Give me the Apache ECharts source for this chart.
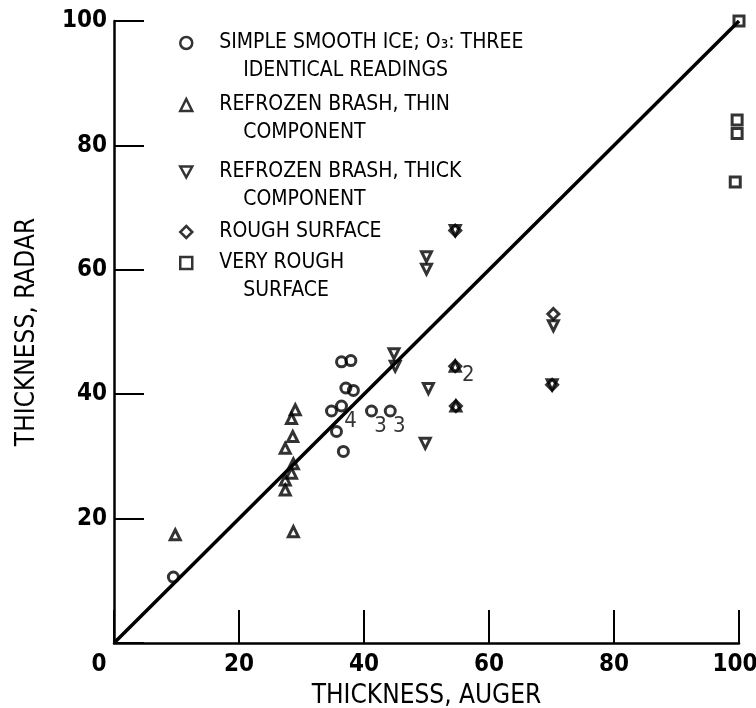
<!DOCTYPE html>
<html><head><meta charset="utf-8">
<script src="https://cdn.jsdelivr.net/npm/echarts@6/dist/echarts.min.js"></script>
<style>html,body{margin:0;padding:0;background:#fff}#c{width:756px;height:708px}</style>
</head><body><div id="c"></div>
<script>
// ---- data ----
const xTicks = [0, 20, 40, 60, 80, 100];
const yTicks = [0, 20, 40, 60, 80, 100];
const seriesNames = ['smooth', 'thin', 'thick', 'rough', 'veryRough'];
const legendText = [
  'SIMPLE SMOOTH ICE; O\u2083: THREE\n    IDENTICAL READINGS',
  'REFROZEN BRASH, THIN\n    COMPONENT',
  'REFROZEN BRASH, THICK\n    COMPONENT',
  'ROUGH SURFACE',
  'VERY ROUGH\n    SURFACE'
];
// [auger, radar, count label]
const smoothIce = [[9.5,10.6],[36.4,45.2],[37.9,45.4],[37.1,41.0],[38.3,40.6],[34.8,37.3],[36.4,38.1,'4'],[35.6,34.0],[36.7,30.8],[41.2,37.3,'3'],[44.2,37.3,'3']];
const thinComponent = [[9.8,17.4],[29.0,37.5],[28.4,36.1],[28.6,33.2],[27.4,31.3],[28.7,28.8],[28.4,27.3],[27.4,26.2],[27.4,24.6],[28.7,17.9],[54.6,44.5],[54.7,38.1]];
const thickComponent = [[44.8,46.5],[45.0,44.5],[50.3,40.9],[49.8,32.1],[50.0,62.1],[50.0,60.1],[54.6,66.3],[70.3,51.0],[70.1,41.5]];
const roughSurface = [[54.6,66.3],[54.6,44.5,'2'],[54.7,38.1],[70.3,52.9],[70.1,41.5]];
const veryRoughSurface = [[100,100],[99.7,84.1],[99.7,81.9],[99.4,74.1]];
const equalityLine = [[0,0],[100,100]];

// ---- styles ----
const FONT = '"DejaVu Sans Condensed", "DejaVu Sans", sans-serif';
const hollow = {color: 'rgba(0,0,0,0)', borderColor: '#000', borderWidth: 3};
const countLabel = (off) => ({
  show: true, position: 'inside', offset: off,
  formatter: p => (p.value && p.value[2]) ? p.value[2] : '',
  fontFamily: FONT, fontSize: 22, color: '#000'
});
const icons = ['circle', 'triangle', 'path://M0,0L10,0L5,9Z', 'diamond', 'rect'];

const legendRows = [
  {i: 0, top: 1, lines: 2},
  {i: 1, top: 63, lines: 2},
  {i: 2, top: 130, lines: 2},
  {i: 3, top: 218, lines: 1},
  {i: 4, top: 221, lines: 2}
];
const LH = 28;
const tickFont = {fontFamily: FONT, fontSize: 24, fontWeight: 'bold', color: '#000'};

const chart = echarts.init(document.getElementById('c'), null, {renderer: 'canvas'});
chart.setOption({
  animation: false,
  backgroundColor: '#fff',
  grid: {left: 114, right: 17, top: 21, bottom: 65, containLabel: false, outerBoundsMode: 'none'},
  xAxis: {
    type: 'value', min: xTicks[0], max: xTicks[xTicks.length-1], interval: xTicks[1]-xTicks[0],
    name: 'THICKNESS, AUGER', nameLocation: 'middle', nameGap: 40,
    nameTextStyle: {fontFamily: FONT, fontSize: 26, color: '#000'},
    axisLine: {lineStyle: {color: '#000', width: 2.5}},
    axisTick: {inside: true, length: 33, lineStyle: {color: '#000', width: 2}},
    axisLabel: Object.assign({
      margin: 10,
      formatter: v => v === 0 ? '{z|0}' : (v === 100 ? '{e|100}' : String(v)),
      rich: {
        z: Object.assign({padding: [0, 30, 0, 0]}, tickFont),
        e: Object.assign({padding: [0, 8, 0, 0]}, tickFont)
      }
    }, tickFont),
    splitLine: {show: false}
  },
  yAxis: {
    type: 'value', min: yTicks[0], max: yTicks[yTicks.length-1], interval: yTicks[1]-yTicks[0],
    name: 'THICKNESS, RADAR', nameLocation: 'middle', nameGap: 74, nameRotate: 90,
    nameTextStyle: {fontFamily: FONT, fontSize: 26, color: '#000'},
    axisLine: {lineStyle: {color: '#000', width: 2.5}},
    axisTick: {inside: true, length: 30, lineStyle: {color: '#000', width: 2}},
    axisLabel: Object.assign({
      margin: 7,
      formatter: v => v === 0 ? '' : String(v)
    }, tickFont),
    splitLine: {show: false}
  },
  legend: legendRows.map(r => ({
    data: [{name: seriesNames[r.i], icon: icons[r.i]}],
    left: 179, top: r.top, padding: 0, orient: 'vertical',
    selectedMode: false, itemWidth: 12, itemHeight: 12,
    symbolRotate: 0,
    itemStyle: {color: 'rgba(0,0,0,0)', borderColor: '#000', borderWidth: 2.5},
    formatter: n => (r.lines === 2 ? '\n' : '') + legendText[seriesNames.indexOf(n)],
    textStyle: {
      fontFamily: FONT, fontSize: 21, color: '#000', lineHeight: LH,
      padding: [0, 0, 0, 22]
    }
  })),
  series: [
    {type: 'line', data: equalityLine, symbol: 'none', silent: true, z: 1,
     lineStyle: {color: '#000', width: 3.5}},
    {name: seriesNames[0], type: 'scatter', data: smoothIce, symbol: 'circle', symbolSize: 10,
     itemStyle: hollow, label: countLabel([9, 15]), z: 3},
    {name: seriesNames[1], type: 'scatter', data: thinComponent, symbol: 'triangle', symbolSize: 10,
     itemStyle: hollow, z: 3},
    {name: seriesNames[2], type: 'scatter', data: thickComponent, symbol: 'triangle', symbolRotate: 180, symbolSize: 10,
     itemStyle: hollow, z: 3},
    {name: seriesNames[3], type: 'scatter', data: roughSurface, symbol: 'diamond', symbolSize: 11,
     itemStyle: hollow, label: countLabel([13, 9]), z: 3},
    {name: seriesNames[4], type: 'scatter', data: veryRoughSurface, symbol: 'rect', symbolSize: 10,
     itemStyle: hollow, z: 3}
  ]
});
</script></body></html>
